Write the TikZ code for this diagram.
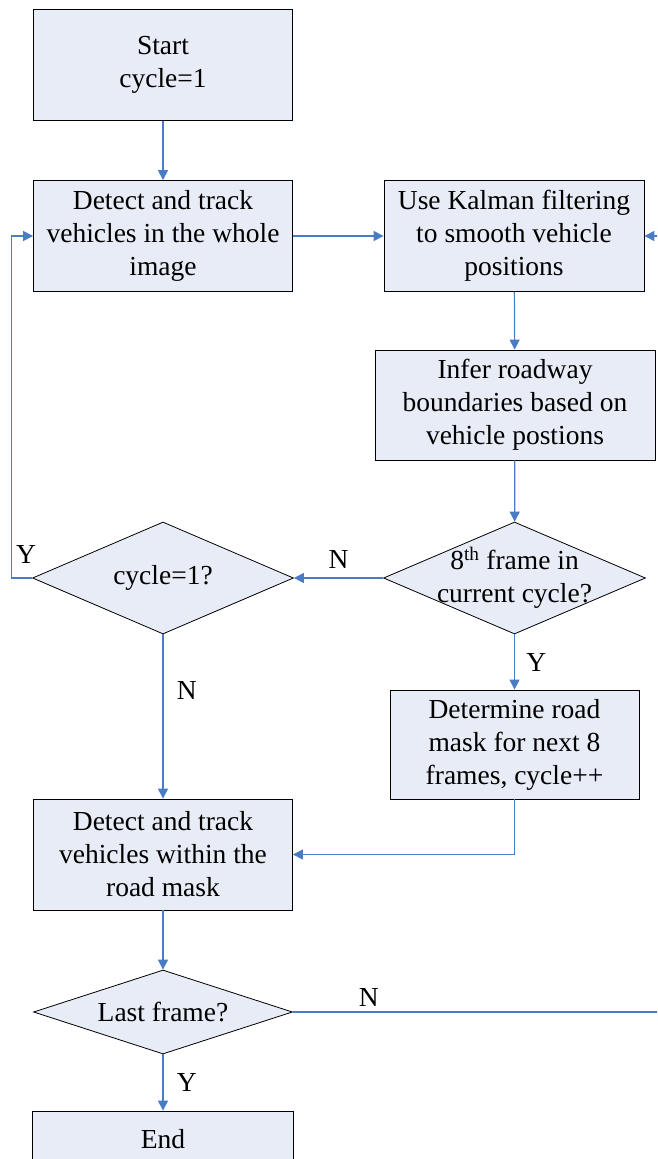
\documentclass[tikz,border=0pt]{standalone}
\usepackage{fontspec}
\setmainfont{Liberation Serif}
\usetikzlibrary{shapes.geometric,arrows.meta}
\definecolor{boxfill}{HTML}{E7ECF6}
\definecolor{flow}{HTML}{4A7CC4}
\tikzset{
  x=1pt, y=-1pt,
  every node/.style={font=\fontsize{27.5}{33}\selectfont, align=center},
  procbox/.style={draw=black, line width=0.8pt, fill=boxfill, minimum width=259pt, inner sep=0pt},
  decision/.style={diamond, aspect=2.35, draw=black, line width=0.8pt, fill=boxfill, inner sep=0pt},
  flowline/.style={draw=flow, line width=1.2pt, -{Triangle[length=10pt,width=10pt]}},
  plainline/.style={draw=flow, line width=1.2pt},
  tag/.style={font=\fontsize{27.5}{30}\selectfont}
}
\begin{document}
\begin{tikzpicture}
\useasboundingbox (0,0) rectangle (657,1159);
\clip (0,0) rectangle (657,1159);

% process boxes
\node[procbox, minimum height=111pt] (start) at (163,65) {Start\\cycle=1};
\node[procbox, minimum height=111pt] (det1) at (163,236) {Detect and track\\vehicles in the whole\\image};
\node[procbox, minimum width=260pt, minimum height=111pt] (kal) at (514,236) {Use Kalman filtering\\to smooth vehicle\\positions};
\node[procbox, minimum width=280pt, minimum height=110pt] (infer) at (515,405) {Infer roadway\\boundaries based on\\vehicle postions};
\node[procbox, minimum width=249pt, minimum height=109pt] (mask) at (514.5,744.5) {Determine road\\mask for next 8\\frames, cycle++};
\node[procbox, minimum height=111pt] (det2) at (163,854.5) {Detect and track\\vehicles within the\\road mask};
\node[procbox, minimum width=261pt, minimum height=56pt] (fin) at (163,1139) {End};

% decisions
\node[decision, minimum width=262pt, minimum height=112pt] (eighth) at (514.5,578) {};
\node at (514.5,578) {8\textsuperscript{th} frame in\\current cycle?};
\node[decision, minimum width=261pt, minimum height=112pt] (first) at (163,578) {cycle=1?};
\node[decision, minimum width=259pt, minimum height=84pt] (last) at (163,1012) {Last frame?};

% loop-back point beyond the right margin
\coordinate (rloop) at (672,1012);

% connectors
\draw[flowline] (start) -- (det1);
\draw[flowline] (det1) -- (kal);
\draw[flowline] (kal) -- (infer);
\draw[flowline] (infer) -- (eighth);
\draw[flowline] (eighth.west) -- (first.east) node[tag, midway, above=6pt] {N};
\draw[flowline] (eighth.south) -- (mask.north) node[tag, pos=0.5, right=8pt] {Y};
\draw[flowline] (first.west) -- ++(-21,0) |- (det1.west) node[tag, pos=0.04, right=1pt, yshift=-4pt] {Y};
\draw[flowline] (first.south) -- (det2.north) node[tag, pos=0.34, right=10pt] {N};
\draw[flowline] (mask.south) |- (det2.east);
\draw[flowline] (det2) -- (last);
\draw[flowline] (last.south) -- (fin.north) node[tag, midway, right=10pt] {Y};
\draw[plainline] (last.east) -- (rloop) node[tag, pos=0.2, above=2pt] {N};
\draw[flowline] (rloop) |- (kal.east);
\end{tikzpicture}
\end{document}
